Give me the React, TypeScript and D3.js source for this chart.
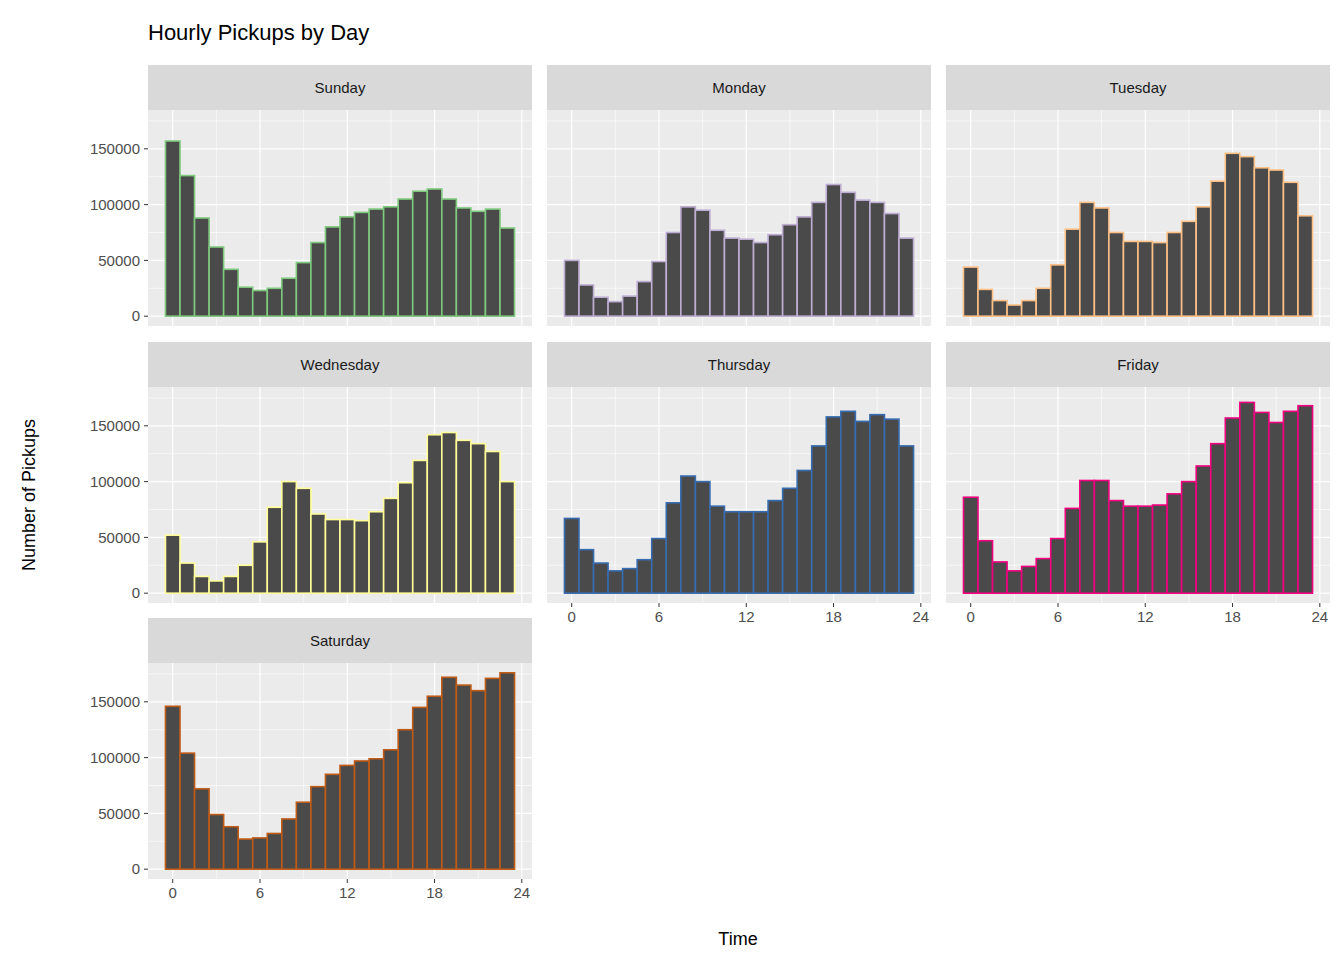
import * as d3 from "d3";

const days = ["Sunday", "Monday", "Tuesday", "Wednesday", "Thursday", "Friday", "Saturday"];
const colors = ["#7fc97f", "#beaed4", "#fdc086", "#ffff99", "#386cb0", "#f0027f", "#bf5b17"];
const hours = d3.range(24);

const sunday = [157000, 126000, 88000, 62000, 42000, 26000, 23000, 25000, 34000, 48000, 66000, 80000, 89000, 93000, 96000, 98000, 105000, 112000, 114000, 105000, 97000, 94000, 96000, 79000];
const monday = [50000, 28000, 17000, 13000, 18000, 31000, 49000, 75000, 98000, 95000, 77000, 70000, 69000, 66000, 73000, 82000, 89000, 102000, 118000, 111000, 104000, 102000, 92000, 70000];
const tuesday = [44000, 24000, 14000, 10000, 14000, 25000, 46000, 78000, 102000, 97000, 75000, 67000, 67000, 66000, 75000, 85000, 98000, 121000, 146000, 143000, 133000, 131000, 120000, 90000];
const wednesday = [52000, 27000, 15000, 11000, 15000, 25000, 46000, 77000, 100000, 94000, 71000, 66000, 66000, 65000, 73000, 85000, 99000, 119000, 142000, 144000, 137000, 134000, 127000, 100000];
const thursday = [67000, 39000, 27000, 20000, 22000, 30000, 49000, 81000, 105000, 100000, 78000, 73000, 73000, 73000, 83000, 94000, 110000, 132000, 158000, 163000, 154000, 160000, 156000, 132000];
const friday = [86000, 47000, 28000, 20000, 24000, 31000, 49000, 76000, 101000, 101000, 83000, 78000, 78000, 79000, 89000, 100000, 114000, 134000, 157000, 171000, 162000, 153000, 163000, 168000];
const saturday = [146000, 104000, 72000, 49000, 38000, 27000, 28000, 32000, 45000, 60000, 74000, 85000, 93000, 97000, 99000, 107000, 125000, 145000, 155000, 172000, 165000, 160000, 171000, 176000];
const series = [sunday, monday, tuesday, wednesday, thursday, friday, saturday];

const xTicks = [0, 6, 12, 18, 24];
const xMinor = [3, 9, 15, 21];
const yTicks = [0, 50000, 100000, 150000];
const yMinor = [25000, 75000, 125000, 175000];

const W = 1344, H = 960;
const colX = [148, 547, 946];
const panelW = 384;
const rowY = [65, 342, 618];
const stripH = 45;
const plotH = 216;
const font = "Liberation Sans, Arial, Helvetica, sans-serif";

const maxV = d3.max(series.flat()) ?? 0;
const x = d3.scaleLinear().domain([-0.5 - 1.2, 23.5 + 1.2 + 1]).range([0, panelW]);
// ggplot-like x expansion: data range -0.5..23.5 plus 5%
const xs = d3.scaleLinear().domain([-0.5 - 1.2, 23.5 + 1.2]).range([0, panelW]);
const y = d3.scaleLinear().domain([-maxV * 0.05, maxV * 1.05]).range([plotH, 0]);
void x;

function Panel({ i }: { i: number }) {
  const col = i % 3, row = Math.floor(i / 3);
  const px = colX[col], py = rowY[row];
  const showY = col === 0;
  const showX = i >= 4;
  const vals = series[i];
  return (
    <g transform={`translate(${px},${py})`}>
      <rect width={panelW} height={stripH} fill="#d9d9d9" />
      <text x={panelW / 2} y={stripH / 2} dy="0.35em" textAnchor="middle" fontSize={15} fill="#1a1a1a">{days[i]}</text>
      <g transform={`translate(0,${stripH})`}>
        <rect width={panelW} height={plotH} fill="#ebebeb" />
        {xMinor.map((t) => <line key={`xm${t}`} x1={xs(t)} x2={xs(t)} y1={0} y2={plotH} stroke="#fff" strokeWidth={0.6} />)}
        {yMinor.map((t) => <line key={`ym${t}`} x1={0} x2={panelW} y1={y(t)} y2={y(t)} stroke="#fff" strokeWidth={0.6} />)}
        {xTicks.map((t) => <line key={`x${t}`} x1={xs(t)} x2={xs(t)} y1={0} y2={plotH} stroke="#fff" strokeWidth={1.2} />)}
        {yTicks.map((t) => <line key={`y${t}`} x1={0} x2={panelW} y1={y(t)} y2={y(t)} stroke="#fff" strokeWidth={1.2} />)}
        {hours.map((h) => (
          <rect key={h} x={xs(h - 0.5)} width={xs(h + 0.5) - xs(h - 0.5)} y={y(vals[h])} height={y(0) - y(vals[h])}
            fill="#4a4a4a" stroke={colors[i]} strokeWidth={1.6} />
        ))}
        {showY && yTicks.map((t) => (
          <g key={`yl${t}`}>
            <line x1={-4} x2={0} y1={y(t)} y2={y(t)} stroke="#333" />
            <text x={-8} y={y(t)} dy="0.35em" textAnchor="end" fontSize={15} fill="#4d4d4d">{t}</text>
          </g>
        ))}
        {showX && xTicks.map((t) => (
          <g key={`xl${t}`}>
            <line x1={xs(t)} x2={xs(t)} y1={plotH} y2={plotH + 4} stroke="#333" />
            <text x={xs(t)} y={plotH + 19} textAnchor="middle" fontSize={15} fill="#4d4d4d">{t}</text>
          </g>
        ))}
      </g>
    </g>
  );
}

export default function App() {
  return (
    <svg width={W} height={H} style={{ display: "block", margin: -8, fontFamily: font }} fontFamily={font}>
      <rect width={W} height={H} fill="#fff" />
      <text x={148} y={40} fontSize={22} fill="#000">Hourly Pickups by Day</text>
      {days.map((_, i) => <Panel key={i} i={i} />)}
      <text x={738} y={945} textAnchor="middle" fontSize={18}>Time</text>
      <text transform="translate(35,495) rotate(-90)" textAnchor="middle" fontSize={18}>Number of Pickups</text>
    </svg>
  );
}
